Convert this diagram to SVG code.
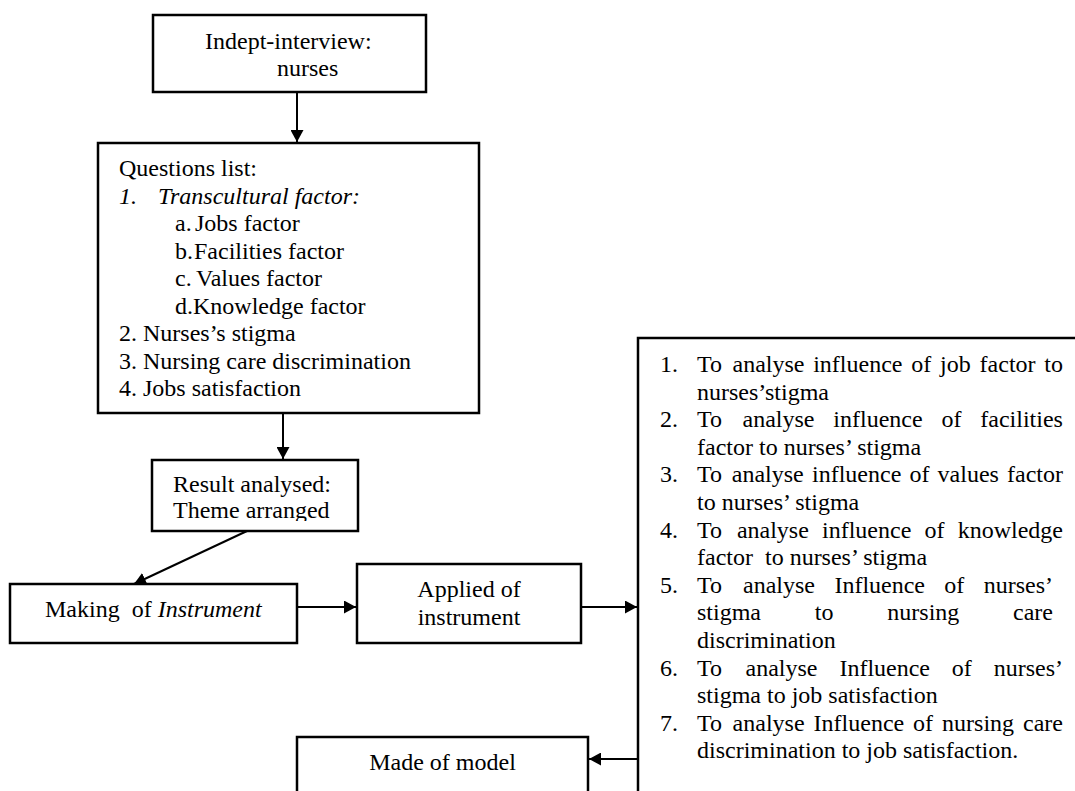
<svg xmlns="http://www.w3.org/2000/svg" width="1075" height="791" viewBox="0 0 1075 791">
<style>
  .box { fill: #fff; stroke: #000; stroke-width: 2.5; }
  .t { font-family: "Liberation Serif", "Times New Roman", serif; font-size: 24px; fill: #000; }
  .it { font-style: italic; }
  .con { stroke: #000; stroke-width: 2; fill: none; marker-end: url(#arr); }
</style>
<defs>
  <marker id="arr" markerUnits="userSpaceOnUse" markerWidth="13" markerHeight="13" refX="12" refY="6.5" orient="auto">
    <path d="M0,0 L12,6.5 L0,13 Z" fill="#000"/>
  </marker>
  <clipPath id="clipRes"><rect x="152" y="460" width="206" height="61"/></clipPath>
</defs>
<rect width="1075" height="791" fill="#fff"/>

<g id="connectors">
  <line class="con" x1="297" y1="92" x2="297" y2="142"/>
  <line class="con" x1="283" y1="413" x2="283" y2="459"/>
  <line class="con" x1="247" y1="531" x2="134" y2="584"/>
  <line class="con" x1="297" y1="607" x2="356" y2="607"/>
  <line class="con" x1="581" y1="607" x2="637" y2="607"/>
  <line class="con" x1="638" y1="759" x2="589" y2="759"/>
</g>

<g id="node-interview">
  <rect class="box" x="153" y="15" width="273" height="77"/>
  <text class="t" x="205" y="49">Indept-interview:</text>
  <text class="t" x="277" y="75.5">nurses</text>
</g>

<g id="node-questions">
  <rect class="box" x="98" y="143" width="381" height="270"/>
  <text class="t" x="119" y="176">Questions list:</text>
  <text class="t it" x="119" y="203.5">1.</text>
  <text class="t it" x="158" y="203.5">Transcultural factor:</text>
  <text class="t" x="175" y="231">a.</text><text class="t" x="195" y="231">Jobs factor</text>
  <text class="t" x="175" y="258.5">b.</text><text class="t" x="194" y="258.5">Facilities factor</text>
  <text class="t" x="175" y="286">c.</text><text class="t" x="196" y="286">Values factor</text>
  <text class="t" x="175" y="313.5">d.</text><text class="t" x="193" y="313.5">Knowledge factor</text>
  <text class="t" x="119" y="341">2. Nurses’s stigma</text>
  <text class="t" x="119" y="368.5">3. Nursing care discrimination</text>
  <text class="t" x="119" y="396">4. Jobs satisfaction</text>
</g>

<g id="node-result">
  <rect class="box" x="152" y="460" width="206" height="71"/>
  <text class="t" x="173" y="492">Result analysed:</text>
  <text class="t" x="173" y="518" clip-path="url(#clipRes)">Theme arranged</text>
</g>

<g id="node-making">
  <rect class="box" x="10" y="584" width="287" height="59"/>
  <text class="t" x="45" y="617" xml:space="preserve">Making  of <tspan class="it">Instrument</tspan></text>
</g>

<g id="node-applied">
  <rect class="box" x="357" y="564" width="224" height="79"/>
  <text class="t" x="469" y="597" text-anchor="middle">Applied of</text>
  <text class="t" x="469" y="625" text-anchor="middle">instrument</text>
</g>

<g id="node-objectives">
  <rect class="box" x="638" y="338" width="500" height="500"/>
  <text class="t" x="660" y="372">1.</text>
  <text class="t" y="372"><tspan x="697">To</tspan><tspan x="732.5">analyse</tspan><tspan x="813.2">influence</tspan><tspan x="911.3">of</tspan><tspan x="940.1">job</tspan><tspan x="979.6">factor</tspan><tspan x="1044.3">to</tspan></text>
  <text class="t" x="697" y="399.6">nurses’stigma</text>
  <text class="t" x="660" y="427.2">2.</text>
  <text class="t" y="427.2"><tspan x="697">To</tspan><tspan x="742.5">analyse</tspan><tspan x="833.3">influence</tspan><tspan x="941.5">of</tspan><tspan x="980.3">facilities</tspan></text>
  <text class="t" x="697" y="454.8">factor to nurses’ stigma</text>
  <text class="t" x="660" y="482.4">3.</text>
  <text class="t" y="482.4"><tspan x="697">To</tspan><tspan x="731.8">analyse</tspan><tspan x="812">influence</tspan><tspan x="909.4">of</tspan><tspan x="937.6">values</tspan><tspan x="1007">factor</tspan></text>
  <text class="t" x="697" y="510">to nurses’ stigma</text>
  <text class="t" x="660" y="537.6">4.</text>
  <text class="t" y="537.6"><tspan x="697">To</tspan><tspan x="736.9">analyse</tspan><tspan x="822">influence</tspan><tspan x="924.5">of</tspan><tspan x="957.7">knowledge</tspan></text>
  <text class="t" x="697" y="565.2" xml:space="preserve">factor  to nurses’ stigma</text>
  <text class="t" x="660" y="592.8">5.</text>
  <text class="t" y="592.8"><tspan x="697">To</tspan><tspan x="743">analyse</tspan><tspan x="834.4">Influence</tspan><tspan x="944.3">of</tspan><tspan x="983.7">nurses’</tspan></text>
  <text class="t" y="620.4"><tspan x="697">stigma</tspan><tspan x="814.8">to</tspan><tspan x="887.3">nursing</tspan><tspan x="1013">care</tspan></text>
  <text class="t" x="697" y="648">discrimination</text>
  <text class="t" x="660" y="675.6">6.</text>
  <text class="t" y="675.6"><tspan x="697">To</tspan><tspan x="745.5">analyse</tspan><tspan x="839.4">Influence</tspan><tspan x="951.8">of</tspan><tspan x="993.7">nurses’</tspan></text>
  <text class="t" x="697" y="703.2">stigma to job satisfaction</text>
  <text class="t" x="660" y="730.8">7.</text>
  <text class="t" y="730.8"><tspan x="697">To</tspan><tspan x="732.6">analyse</tspan><tspan x="813.6">Influence</tspan><tspan x="913.1">of</tspan><tspan x="942.1">nursing</tspan><tspan x="1023">care</tspan></text>
  <text class="t" x="697" y="758.4">discrimination to job satisfaction.</text>
</g>

<g id="node-model">
  <rect class="box" x="297" y="737" width="291" height="100"/>
  <text class="t" x="442.5" y="770" text-anchor="middle">Made of model</text>
</g>
</svg>
